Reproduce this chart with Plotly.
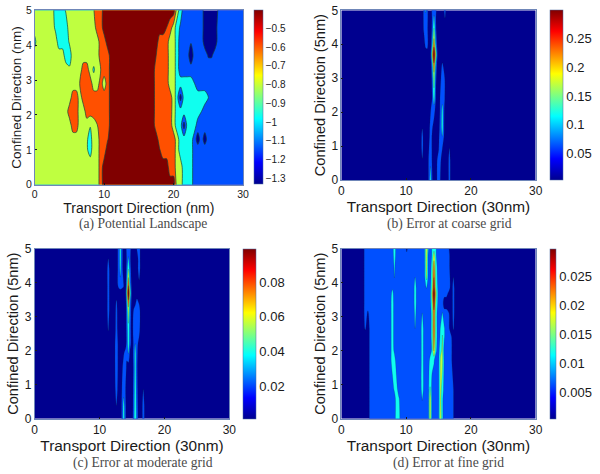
import plotly.graph_objects as go

W, H = 600, 474

# ---------- data ----------
a_x = [0,.4,2.5,3,3.5,4,4.5,5,5.5,6,6.5,7,7.5,8,8.5,9,9.5,10,10.5,11,17,17.5,18,18.5,19,19.5,20,20.5,21,21.5,22,22.5,23,23.5,24,24.5,25,25.5,26,26.5,27,30]
a_y = [0,.5,1,1.3,1.7,2.1,2.5,2.9,3.3,3.7,4.1,4.5,5]
a_z = [
[-.79,-.79,-.79,-.79,-.79,-.79,-.79,-.79,-.79,-.79,-.79,-.79,-.79,-.79,-.79,-.79,-.64,-.48,-.48,-.48,-.48,-.48,-.48,-.48,-.48,-.48,-.48,-.79,-.79,-.95,-.95,-.95,-1.1,-1.1,-1.1,-1.1,-1.1,-1.1,-1.1,-1.1,-1.1,-1.1],
[-.79,-.79,-.79,-.79,-.79,-.79,-.79,-.79,-.79,-.79,-.79,-.79,-.79,-.79,-.79,-.79,-.64,-.48,-.48,-.48,-.48,-.48,-.48,-.48,-.48,-.64,-.64,-.79,-.79,-.95,-.95,-.95,-1.1,-1.1,-1.1,-1.1,-1.1,-1.1,-1.1,-1.1,-1.1,-1.1],
[-.79,-.79,-.79,-.79,-.79,-.79,-.79,-.79,-.79,-.79,-.79,-.79,-.85,-.92,-.79,-.79,-.64,-.64,-.48,-.48,-.48,-.48,-.55,-.64,-.64,-.64,-.64,-.79,-.95,-.95,-.95,-.95,-1.1,-1.1,-1.1,-1.1,-1.1,-1.1,-1.1,-1.1,-1.1,-1.1],
[-.79,-.79,-.79,-.79,-.79,-.79,-.79,-.79,-.79,-.79,-.79,-.79,-.85,-.92,-.79,-.79,-.64,-.64,-.57,-.48,-.48,-.48,-.64,-.64,-.64,-.64,-.64,-.79,-.95,-.95,-.95,-.95,-1.1,-1.25,-1.1,-1.25,-1.1,-1.1,-1.1,-1.1,-1.1,-1.1],
[-.79,-.79,-.79,-.79,-.79,-.79,-.79,-.79,-.64,-.64,-.79,-.79,-.79,-.86,-.79,-.72,-.64,-.64,-.64,-.48,-.48,-.64,-.64,-.64,-.64,-.64,-.79,-.95,-.95,-1.25,-.95,-.95,-.95,-1.1,-1.1,-1.1,-1.1,-1.1,-1.1,-1.1,-1.1,-1.1],
[-.79,-.79,-.79,-.79,-.79,-.79,-.79,-.64,-.64,-.64,-.79,-.79,-.64,-.64,-.64,-.64,-.64,-.64,-.64,-.48,-.48,-.64,-.64,-.64,-.64,-.64,-.79,-.95,-.95,-.95,-.95,-.95,-.95,-.95,-1.02,-1.1,-1.1,-1.1,-1.1,-1.1,-1.1,-1.1],
[-.79,-.79,-.79,-.79,-.79,-.79,-.79,-.79,-.64,-.64,-.79,-.64,-.64,-.64,-.64,-.64,-.64,-.64,-.64,-.48,-.48,-.64,-.64,-.64,-.64,-.64,-.79,-.95,-1.25,-.95,-.95,-.95,-.95,-.95,-.95,-.95,-1.02,-1.1,-1.1,-1.1,-1.1,-1.1],
[-.79,-.79,-.79,-.79,-.79,-.79,-.79,-.79,-.79,-.79,-.71,-.64,-.64,-.64,-.79,-.79,-.64,-.79,-.64,-.48,-.48,-.64,-.64,-.64,-.64,-.79,-.79,-.95,-.95,-.95,-.95,-.95,-1.02,-1.1,-1.1,-1.1,-1.1,-1.1,-1.1,-1.1,-1.1,-1.1],
[-.79,-.79,-.79,-.79,-.79,-.79,-.79,-.84,-.79,-.79,-.79,-.64,-.64,-.79,-.89,-.79,-.72,-.64,-.64,-.48,-.48,-.64,-.64,-.64,-.64,-.79,-.79,-.95,-1.1,-1.1,-1.1,-1.1,-1.1,-1.1,-1.1,-1.1,-1.1,-1.1,-1.1,-1.1,-1.1,-1.1],
[-.79,-.79,-.79,-.79,-.79,-.79,-.95,-.95,-.79,-.79,-.79,-.79,-.79,-.79,-.79,-.79,-.64,-.64,-.64,-.48,-.48,-.56,-.64,-.64,-.64,-.79,-.79,-.95,-1.1,-1.1,-1.1,-1.3,-1.1,-1.1,-1.1,-1.1,-1.19,-1.19,-1.1,-1.1,-1.1,-1.1],
[-.92,-.79,-.79,-.79,-.95,-.95,-.95,-.85,-.79,-.79,-.79,-.79,-.79,-.79,-.79,-.79,-.64,-.64,-.48,-.48,-.48,-.48,-.64,-.64,-.64,-.79,-.79,-.95,-1.1,-1.1,-1.1,-1.16,-1.1,-1.1,-1.1,-1.25,-1.25,-1.25,-1.25,-1.1,-1.1,-1.1],
[-.79,-.79,-.79,-.9,-.95,-.95,-.95,-.79,-.79,-.79,-.79,-.79,-.79,-.79,-.79,-.64,-.64,-.48,-.48,-.48,-.48,-.48,-.48,-.48,-.56,-.64,-.79,-.95,-1.05,-1.1,-1.1,-1.1,-1.1,-1.1,-1.1,-1.25,-1.25,-1.25,-1.25,-1.1,-1.1,-1.1],
[-.79,-.79,-.79,-.95,-.95,-.95,-.85,-.79,-.79,-.79,-.79,-.79,-.79,-.79,-.72,-.64,-.64,-.48,-.48,-.48,-.48,-.48,-.48,-.48,-.48,-.48,-.48,-.79,-.95,-1.1,-1.1,-1.1,-1.1,-1.1,-1.1,-1.25,-1.25,-1.25,-1.25,-1.15,-1.1,-1.1],
]

b_x = [0,12.25,12.5,12.75,13,13.25,13.5,13.75,14,14.3,14.6,14.9,15.2,15.6,16,16.3,16.7,17,30]
b_y = [0,.6,.9,1.3,1.5,2.1,2.4,3,3.4,3.7,4,4.4,4.8,5]
b_z = [
[.02,.02,.02,.02,.02,.02,.06,.125,.06,.02,.02,.08,.06,.02,.02,.02,.07,.02,.02],
[.02,.02,.05,.02,.02,.02,.06,.09,.05,.02,.02,.07,.08,.02,.02,.02,.07,.02,.02],
[.02,.02,.075,.02,.02,.02,.05,.08,.05,.02,.02,.03,.08,.05,.02,.02,.056,.02,.02],
[.02,.02,.075,.02,.02,.02,.03,.08,.05,.02,.02,.02,.07,.105,.02,.02,.02,.02,.02],
[.02,.02,.055,.02,.02,.02,.02,.08,.06,.02,.02,.02,.06,.12,.02,.02,.02,.02,.02],
[.02,.02,.02,.02,.02,.02,.02,.04,.08,.085,.03,.02,.05,.115,.03,.02,.02,.02,.02],
[.02,.02,.02,.02,.02,.02,.02,.02,.05,.13,.05,.02,.05,.085,.05,.02,.02,.02,.02],
[.02,.02,.02,.02,.02,.02,.02,.02,.06,.17,.06,.02,.03,.08,.05,.02,.02,.02,.02],
[.02,.02,.02,.02,.02,.02,.02,.02,.09,.24,.09,.02,.02,.06,.02,.02,.02,.02,.02],
[.02,.02,.02,.02,.02,.02,.02,.02,.16,.3,.16,.02,.02,.02,.02,.02,.02,.02,.02],
[.02,.02,.02,.02,.07,.08,.02,.02,.09,.23,.09,.02,.02,.02,.02,.02,.02,.02,.02],
[.02,.02,.02,.06,.085,.07,.02,.02,.06,.16,.06,.02,.02,.02,.02,.02,.02,.02,.02],
[.02,.02,.02,.07,.09,.075,.02,.02,.055,.11,.055,.02,.02,.02,.056,.02,.02,.02,.02],
[.02,.02,.02,.07,.11,.075,.02,.02,.06,.08,.06,.02,.02,.02,.07,.02,.02,.02,.02],
]

c_x = [0,11,11.35,11.7,12.25,12.6,12.95,13.2,13.45,13.7,14,14.2,14.45,14.7,15,15.25,15.5,15.75,16.1,16.4,16.75,17.1,30]
c_y = [0,.4,.85,1.5,1.95,2.2,2.6,3.2,3.45,3.7,3.95,4.4,4.7,5]
c_z = [
[.008,.008,.008,.008,.008,.008,.008,.008,.02,.042,.02,.008,.008,.008,.008,.026,.048,.026,.008,.008,.024,.008,.008],
[.008,.008,.008,.008,.008,.018,.008,.008,.02,.04,.02,.008,.008,.008,.008,.024,.046,.024,.008,.008,.024,.008,.008],
[.008,.008,.008,.008,.01,.024,.01,.008,.018,.028,.018,.008,.008,.008,.008,.022,.044,.022,.008,.008,.018,.008,.008],
[.008,.008,.008,.008,.012,.026,.012,.008,.012,.026,.026,.012,.008,.008,.008,.02,.042,.02,.008,.008,.008,.008,.008],
[.008,.008,.008,.008,.012,.026,.012,.008,.008,.014,.024,.024,.036,.014,.008,.022,.04,.022,.008,.008,.008,.008,.008],
[.008,.008,.008,.008,.012,.026,.012,.008,.008,.008,.008,.024,.042,.024,.008,.02,.034,.022,.012,.008,.008,.008,.008],
[.008,.008,.018,.008,.008,.024,.008,.008,.008,.008,.008,.024,.045,.024,.008,.024,.026,.026,.022,.008,.008,.008,.008],
[.008,.008,.024,.008,.008,.022,.008,.008,.008,.008,.008,.028,.06,.028,.008,.018,.024,.026,.024,.008,.008,.008,.008],
[.008,.008,.024,.008,.008,.019,.008,.008,.008,.008,.008,.035,.08,.035,.008,.008,.012,.022,.014,.008,.008,.008,.008],
[.008,.008,.024,.008,.008,.008,.008,.008,.008,.016,.008,.05,.099,.05,.008,.008,.008,.008,.008,.008,.008,.008,.008],
[.008,.008,.024,.008,.008,.008,.024,.03,.026,.018,.008,.035,.08,.035,.008,.008,.008,.008,.014,.008,.008,.008,.008],
[.008,.008,.024,.008,.008,.008,.024,.038,.024,.008,.008,.024,.05,.024,.008,.008,.008,.008,.026,.008,.008,.008,.008],
[.008,.008,.018,.008,.008,.008,.024,.04,.024,.008,.008,.02,.036,.02,.008,.008,.008,.008,.026,.008,.008,.008,.008],
[.008,.008,.008,.008,.008,.008,.024,.04,.024,.008,.008,.024,.026,.022,.008,.008,.008,.018,.026,.008,.008,.008,.008],
]

d_x = [0,3.3,3.7,4.1,4.5,7.5,7.9,8.2,8.5,8.85,9.2,9.9,10.1,10.3,11.1,11.4,11.7,12.2,12.5,12.8,13.15,13.45,13.7,14,14.3,14.6,15,15.3,15.6,15.9,16.2,16.6,17,17.3,17.6,30]
d_y = [0,.6,.85,1.7,2,2.4,2.65,3.1,3.4,3.7,3.85,4.15,4.5,4.8,5]
d_z = [
[.002,.002,.002,.002,.0077,.0077,.0077,.0077,.0127,.0127,.0077,.0077,.0077,.0077,.0077,.0077,.0077,.0077,.0077,.0077,.0077,.0085,.019,.0085,.0077,.0077,.0085,.019,.011,.0077,.0077,.0077,.0077,.0055,.002,.002],
[.002,.002,.002,.002,.0077,.0077,.0077,.0077,.0127,.011,.0077,.0077,.0077,.0077,.0077,.0077,.0077,.0077,.0105,.0077,.0077,.0085,.019,.0085,.0077,.0077,.0085,.017,.011,.0077,.0077,.0077,.0077,.0055,.002,.002],
[.002,.002,.002,.002,.0077,.0077,.0077,.011,.0127,.0077,.0077,.0077,.0077,.0077,.0077,.0077,.0077,.0077,.0127,.0077,.0077,.0085,.0155,.0085,.0077,.0077,.0085,.017,.013,.0077,.0077,.0077,.0077,.0055,.002,.002],
[.002,.002,.002,.002,.0077,.0077,.0127,.0127,.0077,.0077,.0077,.0077,.0077,.0077,.0077,.0077,.0077,.0077,.0127,.0077,.0077,.0077,.012,.0115,.0105,.0077,.0085,.016,.016,.0085,.0077,.0077,.006,.002,.002,.002],
[.002,.002,.002,.002,.0077,.0077,.0127,.009,.0077,.0077,.0077,.0077,.0077,.0077,.0077,.0077,.0077,.0077,.0127,.0077,.0077,.0077,.0077,.011,.021,.011,.0077,.014,.016,.0077,.0077,.0077,.006,.002,.002,.002],
[.002,.002,.002,.002,.0077,.0077,.0127,.0077,.0077,.0077,.0077,.0077,.0077,.0077,.0077,.0077,.0077,.0077,.0127,.0077,.0077,.0077,.0077,.012,.023,.012,.0077,.011,.0155,.0105,.0077,.0077,.0055,.002,.002,.002],
[.002,.002,.006,.002,.0077,.0077,.0127,.0077,.0077,.0077,.0077,.0077,.0077,.0077,.0077,.0103,.0077,.0077,.0127,.0077,.0077,.0077,.0077,.012,.024,.012,.0077,.0105,.014,.0105,.0077,.006,.002,.0058,.002,.002],
[.002,.002,.0077,.0045,.0077,.0077,.0127,.0077,.0077,.0077,.0077,.0077,.0077,.0077,.0077,.0115,.0077,.0077,.0103,.0077,.0077,.0077,.0077,.012,.024,.012,.0077,.0077,.0105,.0077,.0077,.0055,.002,.0075,.002,.002],
[.002,.002,.0077,.0077,.0077,.0077,.0127,.0077,.0077,.0077,.0077,.0077,.0077,.0077,.0077,.0127,.0077,.0077,.0077,.0077,.0077,.0077,.0077,.015,.027,.015,.0077,.0077,.0077,.002,.002,.002,.002,.0077,.002,.002],
[.002,.002,.0077,.0077,.0077,.0077,.0115,.0077,.0077,.0077,.0077,.0077,.0077,.0077,.0077,.0127,.0077,.0077,.0077,.0077,.0077,.0077,.0077,.017,.03,.017,.0077,.0077,.0077,.0077,.0077,.004,.002,.0077,.002,.002],
[.002,.002,.0077,.0077,.0077,.0077,.0095,.0077,.0077,.0077,.0077,.0077,.0077,.0077,.0077,.0127,.0077,.0077,.0077,.0077,.0105,.0077,.0077,.015,.027,.015,.0077,.0077,.0077,.0077,.0077,.0077,.002,.0077,.002,.002],
[.002,.002,.0077,.0077,.0077,.0077,.0077,.0103,.0077,.0077,.0077,.0077,.0077,.0077,.0077,.0103,.0077,.0077,.0077,.0077,.0165,.0077,.0077,.013,.025,.013,.0077,.0077,.0077,.0077,.0077,.0077,.002,.0055,.002,.002],
[.002,.002,.0077,.0077,.0077,.0077,.0077,.011,.0077,.0077,.0077,.0077,.0077,.0077,.0077,.0077,.0077,.0077,.0077,.0077,.018,.0077,.0077,.012,.022,.012,.0077,.0077,.0077,.0077,.0077,.0065,.002,.002,.002,.002],
[.002,.002,.0077,.0077,.0077,.0077,.0077,.0127,.0077,.0077,.0077,.0077,.0077,.0077,.0077,.0077,.0077,.0077,.0077,.0077,.019,.0077,.0077,.0105,.018,.0105,.0077,.0077,.0077,.0077,.0077,.0065,.002,.002,.002,.002],
[.002,.002,.0077,.0077,.0077,.0077,.0077,.0135,.0077,.0077,.0077,.0077,.003,.0077,.0077,.0077,.0077,.0077,.0077,.0077,.02,.0105,.0077,.0105,.0135,.0105,.0077,.0077,.0077,.0077,.0077,.0055,.002,.002,.002,.002],
]

a_ticks = [-.5,-.6,-.7,-.8,-.9,-1,-1.1,-1.2,-1.3]
a_ticktext = ["\u22120.5","\u22120.6","\u22120.7","\u22120.8","\u22120.9","\u22121","\u22121.1","\u22121.2","\u22121.3"]
b_ticks = [.05,.1,.15,.2,.25]
c_ticks = [.02,.04,.06,.08]
d_ticks = [.005,.01,.015,.02,.025]

captions = ["(a) Potential Landscape","(b) Error at coarse grid","(c) Error at moderate grid","(d) Error at fine grid"]

# ---------- styling ----------
SANS = "Liberation Sans"
SERIF = "Liberation Serif"
BANDS = ["#00008f","#0050ff","#10ffef","#bfff40","#ff5000","#800000"]
JET = [[0,"#00008f"],[.125,"#0000ff"],[.375,"#00ffff"],[.625,"#ffff00"],[.875,"#ff0000"],[1,"#800000"]]
BAND_SCALE = [[i/5, c] for i, c in enumerate(BANDS)]

panels = [
 dict(x=a_x,y=a_y,z=a_z,lo=-1.332,hi=-.404,box=(34.7,243,10.3,184.7),cb=(253.7,9.3),
      ticks=a_ticks,text=a_ticktext,xt="Transport Direction (nm)",yt="Confined Direction (nm)",
      tf=10.5,tt=14,yts=13.5,cbf=10,capx=143,capy=224,xs=1,ys=1,lw=.7),
 dict(x=b_x,y=b_y,z=b_z,lo=.0036,hi=.2987,box=(341.3,535.7,10.3,180),cb=(549.7,13.3),
      ticks=b_ticks,text=["0.05","0.1","0.15","0.2","0.25"],xt="Transport Direction (30nm)",yt="Confined Direction (5nm)",
      tf=12,tt=15.4,yts=14.6,cbf=13,capx=449.5,capy=224,xs=0,ys=2,lw=.2),
 dict(x=c_x,y=c_y,z=c_z,lo=.0011,hi=.0992,box=(34.7,229.3,248.7,418.7),cb=(243.3,13.4),
      ticks=c_ticks,text=["0.02","0.04","0.06","0.08"],xt="Transport Direction (30nm)",yt="Confined Direction (5nm)",
      tf=12,tt=15.4,yts=14.6,cbf=13,capx=143,capy=463,xs=0,ys=2,lw=.2),
 dict(x=d_x,y=d_y,z=d_z,lo=.00036,hi=.0299,box=(341.3,535.7,248.7,418.7),cb=(549.7,6),
      ticks=d_ticks,text=["0.005","0.01","0.015","0.02","0.025"],xt="Transport Direction (30nm)",yt="Confined Direction (5nm)",
      tf=12,tt=15.4,yts=14.6,cbf=13,capx=448.7,capy=463,xs=0,ys=2,lw=.2),
]

fig = go.Figure()
layout = dict(width=W, height=H, margin=dict(l=0,r=0,t=0,b=0,autoexpand=False),
              paper_bgcolor="white", plot_bgcolor="white", showlegend=False,
              font=dict(family=SANS, color="#1a1a1a"), annotations=[])

for i, p in enumerate(panels):
    n = "" if i == 0 else str(i+1)
    l, r, t, b = p["box"]
    step = (p["hi"]-p["lo"])/6
    fig.add_trace(go.Contour(
        x=p["x"], y=p["y"], z=p["z"], xaxis="x"+n, yaxis="y"+n,
        autocontour=False, showscale=False, colorscale=BAND_SCALE, hoverinfo="skip",
        contours=dict(start=p["lo"]+step, end=p["lo"]+5*step, size=step, coloring="fill", showlines=True),
        line=dict(color="#14403c", width=p["lw"], smoothing=0.8)))
    fig.add_trace(go.Scatter(
        x=[None], y=[None], xaxis="x"+n, yaxis="y"+n, mode="markers", hoverinfo="skip",
        marker=dict(color=[p["lo"]], cmin=p["lo"], cmax=p["hi"], colorscale=JET, showscale=True,
            colorbar=dict(x=p["cb"][0]/W, xanchor="left", y=1-t/H, yanchor="top",
                          len=(b-t)/H, lenmode="fraction", thickness=p["cb"][1], thicknessmode="pixels",
                          xpad=0, ypad=0, outlinewidth=.5, outlinecolor="#4a6aa0",
                          tickmode="array", tickvals=p["ticks"], ticktext=p["text"], ticks="",
                          tickfont=dict(size=p["cbf"], family=SANS, color="#1a1a1a")))))
    axis = dict(showline=True, mirror=True, linecolor="#6f86b8", linewidth=.6, ticks="inside", ticklen=2,
                tickcolor="#1a1a1a", tickwidth=.5, showgrid=False, zeroline=False, tickfont=dict(size=p["tf"], family=SANS))
    layout["xaxis"+n] = dict(axis, domain=[l/W, r/W], range=[0,30], tickvals=[0,10,20,30], anchor="y"+n,
                             title=dict(text=p["xt"], font=dict(size=p["tt"], family=SANS), standoff=p["xs"]))
    layout["yaxis"+n] = dict(axis, domain=[1-b/H, 1-t/H], range=[0,5], tickvals=[0,1,2,3,4,5], anchor="x"+n,
                             title=dict(text=p["yt"], font=dict(size=p["yts"], family=SANS), standoff=p["ys"]))
    layout["annotations"].append(dict(text=captions[i], x=p["capx"]/W, y=1-p["capy"]/H, xref="paper", yref="paper",
                                      showarrow=False, xanchor="center", yanchor="middle",
                                      font=dict(family=SERIF, size=13.6, color="#4a4a4a")))
fig.update_layout(**layout)
fig.write_html("out.html", config={"displayModeBar": False}, post_script="document.body.style.margin='0';")
